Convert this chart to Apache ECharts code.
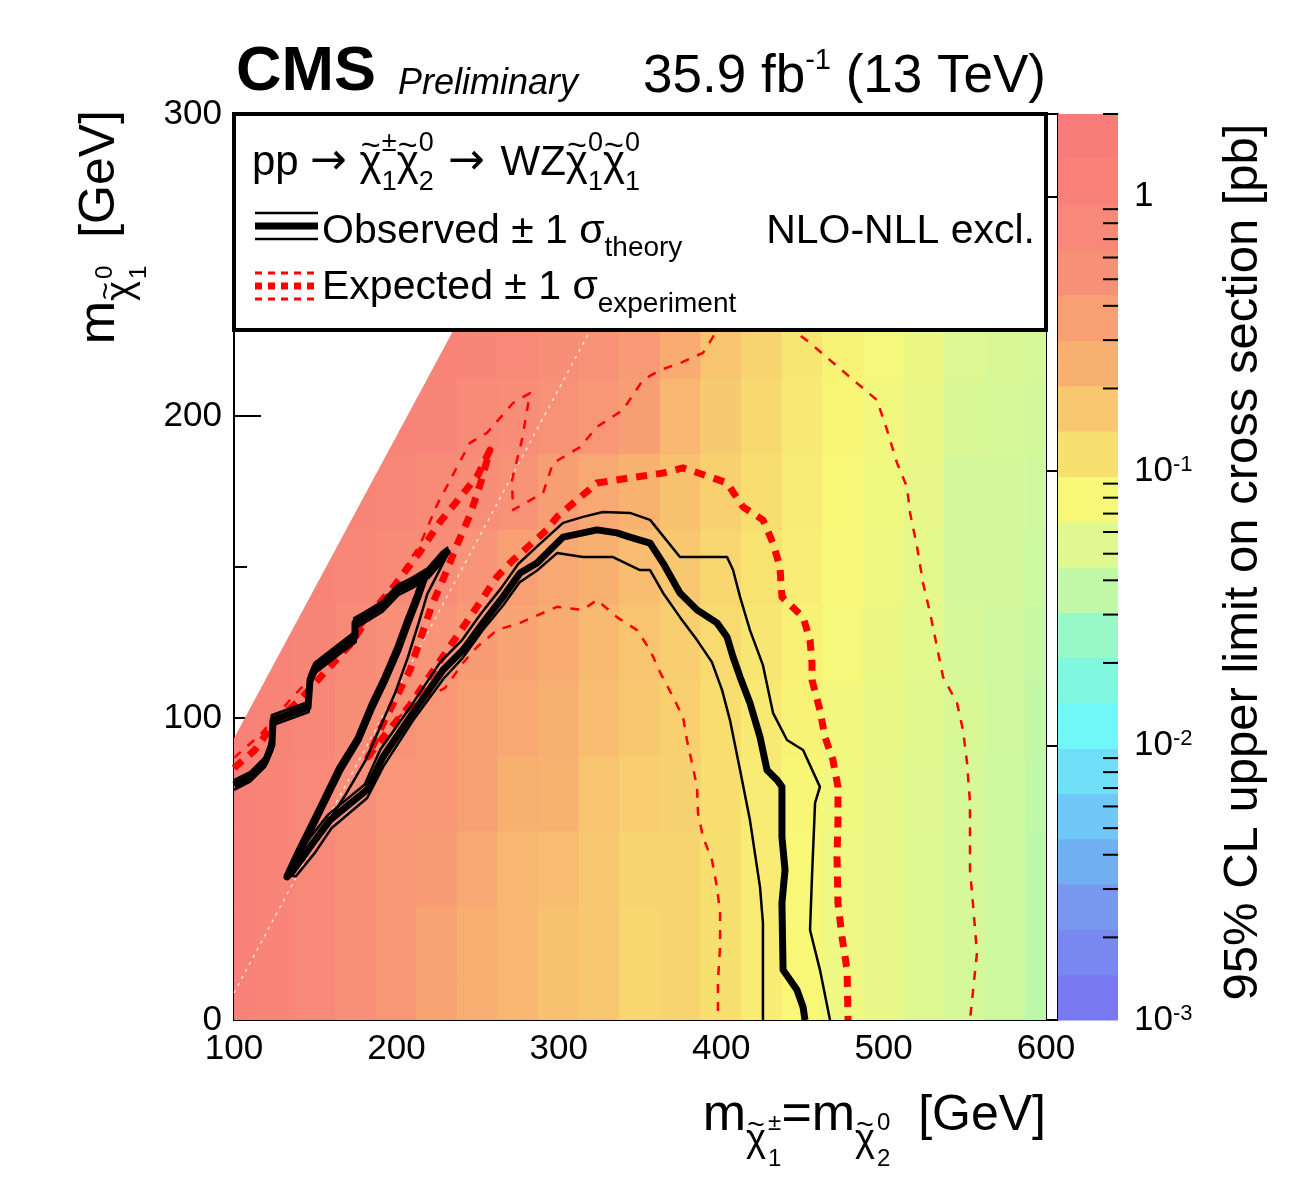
<!DOCTYPE html>
<html><head><meta charset="utf-8">
<script src="https://cdn.jsdelivr.net/npm/echarts@6.0.0/dist/echarts.min.js"></script>
<style>html,body{margin:0;padding:0;background:#fff;}#c{width:1299px;height:1202px;}</style>
</head><body><div id="c"></div>
<script>
// ---------------- DATA ----------------
const xCenters = [100,125,150,175,200,225,250,275,300,325,350,375,400,425,450,475,500,525,550,575,600];
const yCenters = [0,25,50,75,100,125,150,175,200,225,250,275,300];
// 95% CL upper limit on cross section [pb], one row per yCenter, one column per xCenter
const limitRows = [
 [1.1,0.9,0.77,0.55,0.45,0.32,0.26,0.22,0.19,0.17,0.135,0.14,0.115,0.095,0.08,0.068,0.06,0.053,0.048,0.043,0.036],
 [1.1,0.9,0.77,0.55,0.45,0.32,0.26,0.22,0.19,0.17,0.135,0.14,0.115,0.095,0.08,0.068,0.06,0.053,0.048,0.043,0.036],
 [1.1,0.9,0.77,0.55,0.45,0.40,0.30,0.22,0.20,0.17,0.14,0.14,0.115,0.095,0.08,0.068,0.06,0.053,0.048,0.043,0.036],
 [1.1,0.9,0.78,0.56,0.46,0.44,0.36,0.25,0.24,0.18,0.155,0.145,0.118,0.097,0.082,0.07,0.061,0.054,0.048,0.043,0.037],
 [1.1,0.95,0.8,0.6,0.5,0.45,0.37,0.30,0.25,0.20,0.17,0.15,0.12,0.10,0.085,0.072,0.063,0.055,0.049,0.044,0.038],
 [null,1.0,0.85,0.68,0.56,0.48,0.40,0.32,0.27,0.21,0.18,0.155,0.125,0.105,0.088,0.075,0.065,0.057,0.048,0.045,0.04],
 [null,null,0.95,0.8,0.66,0.58,0.48,0.36,0.30,0.25,0.20,0.17,0.135,0.11,0.092,0.078,0.068,0.058,0.046,0.046,0.042],
 [null,null,null,0.95,0.8,0.7,0.6,0.5,0.38,0.30,0.24,0.19,0.15,0.12,0.095,0.08,0.07,0.06,0.046,0.047,0.044],
 [null,null,null,null,0.95,0.85,0.72,0.62,0.5,0.45,0.38,0.22,0.165,0.13,0.10,0.083,0.072,0.062,0.05,0.048,0.046],
 [null,null,null,null,null,0.95,0.85,0.75,0.62,0.5,0.42,0.27,0.18,0.14,0.105,0.086,0.075,0.065,0.052,0.05,0.048],
 [null,null,null,null,null,null,0.95,0.85,0.72,0.6,0.5,0.32,0.2,0.15,0.11,0.09,0.078,0.068,0.055,0.052,0.05],
 [null,null,null,null,null,null,null,0.95,0.82,0.7,0.58,0.38,0.23,0.17,0.12,0.095,0.08,0.07,0.058,0.054,0.052],
 [null,null,null,null,null,null,null,null,0.92,0.8,0.66,0.45,0.27,0.19,0.13,0.10,0.085,0.072,0.06,0.056,0.054]
];
// kinematic edge of the scanned region
const kinematicEdge = [[100, 93], [300, 293]];
// white dotted line
const whiteDiagonal = [[100, 9], [330, 239]];

const obsCentral = [[100,77.8],[109.9,80.5],[119.1,85.4],[123.4,91.1],[124,99.3],[145.6,103.6],[146.8,112.6],[149.9,116.6],[164,122.5],[174.5,126.8],[174.5,131.5],[180.7,133.4],[191.1,136.8],[201,142.4],[209.6,144.7],[219.5,148],[228.1,153.3],[231.2,155],
 [217.6,146.7],[213.3,140.1],[207.1,131.5],[201,122.5],[193,112.6],[185,103.6],[176.4,92.7],[165.3,82.8],[151.1,67.2],[138.8,54],[132.6,47.4],
 [135.7,49],[148.6,58.6],[159.1,66.2],[181.9,76.2],[191.7,87.1],[210.2,101.7],[228.7,115.9],[241,122.5],[253.3,131.5],[265.6,140.1],[276.1,148],[286.6,151.3],[294.6,155.6],[302.6,159.9],[314.9,161.3],[323.5,162.3],[335.8,161.3],[343.8,159.9],[356.2,157.9],[364.2,151.3],[374.6,141.4],[385.1,135.8],[397.4,131.5],[403.6,126.8],[407.3,120.2],[411.6,113.6],[417.7,105],[423.9,93.7],[428.2,82.8],[434.4,79.5],[437.4,77.2],[437.4,60.6],[439.3,49.7],[437.4,38.7],[438.1,16.6],[446.7,9.9],[450.4,4.3],[451.6,0]];
const obsPlus = [[100,79.4],[109.9,82.1],[119.1,87],[122.6,92.7],[123.2,100.9],[145.2,105.2],[146.3,114.2],[149.5,118.2],[163.6,124.1],[174,128.4],[174,133.1],[180.3,135],[190.7,138.4],[200.6,144],[209.3,146.3],[219.2,149.6],[227.8,154.9],[231.4,156.4],
 [216,147.5],[211.8,141],[205.6,132.5],[199.5,123.5],[191.5,113.5],[183.5,104.5],[175,93.5],[164,84],[150,68.5],[137.5,55],[131.5,48],
 [134,50.5],[147,60.5],[158,68],[180.5,78],[190,89.5],[209,104],[227,118.5],[240,125.5],[252,134.5],[264.5,143],[275,151],[286,156.5],[302.6,164.6],[314.9,166.6],[327.2,168.2],[343.8,167.9],[356.2,165.6],[374.6,153.3],[386.9,153.3],[403.6,153.3],[407.3,149],[411.6,140.1],[417.7,129.1],[425.7,117.5],[431.9,101.7],[440.5,92.7],[450.4,89.4],[460.8,77.2],[457.8,71.9],[455.9,47.4],[454.7,29.8],[460.8,16.6],[467,0]];
const obsMinus = [[100,76.2],[109.9,78.9],[119.1,83.8],[123.8,89.5],[124.6,97.7],[146,102],[147.2,111],[150.3,115],[164.4,120.9],[175,125.2],[175,129.9],[181.1,131.8],[191.5,135.2],[201.4,140.8],[209.9,143.1],[219.8,146.4],[228.4,151.7],[231,153.6],
 [219,141],[214,132],[207,120],[199,108],[190,97],[181,86],[168,74],[155,63],[143,53],[135,48],
 [138,47.5],[150,55.5],[160,63.5],[182,73.5],[192,84],[210,99],[229,113],[241,120],[253,129],[266,137.5],[276,145],[287,149],[298.9,154.6],[314.9,153.3],[333.4,153.3],[350,149],[356.2,149],[364.2,141.4],[374.6,133.4],[385.1,125.8],[394.3,118.5],[400.5,109.3],[405.4,99.3],[411.6,82.8],[417.7,66.2],[423.9,44],[425.7,32.1],[425.7,0]];
const expCentral = [[100,83.4],[112.9,89.4],[125.2,98.7],[140.6,106],[156,115.2],[171.4,124.2],[185,135.1],[199.1,144],[214.5,155],[226.8,164.9],[240.4,173.8],[250.2,180.5],[257.6,188.7],
 [251.5,177.2],[245.3,167.2],[237.3,157.3],[229.9,147.4],[221.9,137.4],[214.5,125.8],[208.4,115.9],[199.1,106],[189.9,96],[182.5,87.1],
 [193,94.4],[208.4,104.3],[225,117.5],[245.3,133.4],[261.9,146.7],[271.8,152.3],[292.7,162.3],[298.9,166.6],[311.2,172.2],[323.5,177.8],[343.8,179.5],[364.2,181.1],[376.5,182.8],[395,179.5],[403.6,177.8],[413.4,169.9],[425.7,165.6],[431.9,157.9],[436.2,150],[437.4,140.1],[450.4,133.4],[454.7,125.8],[455.9,118.2],[455.9,112.6],[460.8,102.6],[463.9,93.7],[468.8,86.1],[471.9,77.2],[471.9,66.2],[471.3,54],[471.9,38.7],[474.4,27.5],[477.5,16.6],[478.1,0]];
const expPlus = [[100,86.8],[116,94.4],[134.5,106],[153,116.6],[171.4,125.8],[189.9,137.4],[202.2,147.4],[214.5,157.3],[225,170.5],[237.3,183.1],[245.3,191.1],[255.8,194.4],[271.8,204.3],[282.3,207.6],
 [277.3,192.1],[271.2,178.8],[271.8,168.9],
 [290.3,174.5],[296.4,184.4],[313.1,189.7],[323.5,196.4],[339.5,202],[351.8,211.9],[362.3,215.2],[374.6,217.5],[388.8,220.9],[395,226.2],[402.3,238.4],[423.9,241.7],[446.7,227.5],[454.7,224.2],[467,218.5],[483.6,210.9],[495.9,205.3],[502.1,195.4],[508.3,184.4],[514.4,176.5],[516.3,167.9],[520.6,156.6],[524.3,144.7],[528.6,134.8],[532.9,123.5],[536.6,113.6],[545.2,105],[548.9,96],[551.4,85.1],[553.2,71.9],[553.2,49.7],[555,38.7],[557.5,22.2],[553.2,0]];
const expMinus = [[199.1,99.3],[214.5,106],[229.9,109.9],[241,118.2],[249.6,123.5],[261.9,129.1],[276.1,131.5],[298.9,136.8],[314.9,135.8],[323.5,139.1],[335.8,133.4],[348.2,129.1],[356.2,122.5],[362.3,115.2],[370.3,107],[376.5,100.3],[378.9,92.7],[382,85.1],[385.1,77.2],[385.7,68.5],[388.8,60.6],[394.3,53],[397.4,44],[399.3,35.4],[399.3,24.2],[398,13.2],[398,0]];

const xTicks = [100, 600, 100];      // min, max, step
const yTicks = [0, 300, 100];
const cbRange = [0.001, 2];
const cbMinorTicks = [0.002,0.003,0.004,0.005,0.006,0.007,0.008,0.009,0.02,0.03,0.04,0.05,0.06,0.07,0.08,0.09,0.2,0.3,0.4,0.5,0.6,0.7,0.8,0.9,2];
// palette bands, bottom (1e-3) to top (2 pb)
const paletteBands = ['#7878f0','#7888f0','#7898f0','#70b0f0','#70c8f8','#70e0f8','#70f8f8','#80f8e0','#98f8c8','#c0f8a8','#e0f890','#f8f878','#f8e070','#f8c870','#f8b070','#f8a074','#f89078','#f88878','#f88078','#f87c78'];

// ---------------- HELPERS ----------------
const FONT = '"Liberation Sans", Arial, Helvetica, sans-serif';
const mctx = document.createElement('canvas').getContext('2d');
function fontStr(fs, fw, fi, ff){ return (fi?'italic ':'') + (fw||'normal') + ' ' + fs + 'px ' + (ff||FONT); }
function tw(t, fs, fw, fi, ff){ mctx.font = fontStr(fs, fw, fi, ff); return mctx.measureText(t).width; }
function txt(t, x, base, fs, fw, fi, align, ff){
  return {type:'text', x:x, y: base - 0.3465*fs, z:200,
    style:{text:t, font:fontStr(fs,fw,fi,ff), fill:'#000', align:align||'left', verticalAlign:'middle'}};
}
// parts: {t,fs,fw,fi,ff,dy,gap} or {stack:[{t,fs,dy,center,wf}], gap}
function seq(parts, x, base, align){
  const widths = parts.map(p => (p.stack ? Math.max.apply(null, p.stack.map(q=>tw(q.t,q.fs,q.fw,q.fi,q.ff)*(q.wf==null?1:q.wf))) : tw(p.t,p.fs,p.fw,p.fi,p.ff)) + (p.gap||0));
  const total = widths.reduce((a,b)=>a+b,0);
  let cx = align==='right' ? x-total : (align==='center' ? x-total/2 : x);
  const els = [];
  parts.forEach((p,i)=>{
    (p.stack||[p]).forEach(q=>{
      let dx = q.dx||0;
      if (q.center) dx += (widths[i]-(p.gap||0)-tw(q.t,q.fs,q.fw,q.fi,q.ff))/2;
      els.push(txt(q.t, cx+dx, base+(q.dy||0), q.fs, q.fw, q.fi, 'left', q.ff));
    });
    cx += widths[i];
  });
  return els;
}
// chi with tilde accent (stack of glyphs), dy = baseline shift of chi
function chiT(fs, dy, gap){ return {gap:gap||0, stack:[{t:'\u03c7', fs:fs, dy:dy||0, center:true},{t:'~', fs:Math.round(fs*0.8), dy:(dy||0)-0.47*fs, center:true, wf:0}]}; }
function hex(h){ return [parseInt(h.substr(1,2),16),parseInt(h.substr(3,2),16),parseInt(h.substr(5,2),16)]; }
const lMin = Math.log10(cbRange[0]), lMax = Math.log10(cbRange[1]);
const bandW = (lMax - lMin)/paletteBands.length;
function paletteColor(v){
  const t = (Math.log10(v)-lMin)/bandW - 0.5;
  const n = paletteBands.length;
  const i = Math.max(0, Math.min(n-1, Math.floor(t)));
  const j = Math.min(n-1, i+1);
  const f = Math.max(0, Math.min(1, t-i));
  const a = hex(paletteBands[i]), b = hex(paletteBands[j]);
  return 'rgb(' + a.map((c,k)=>Math.round(c+(b[k]-c)*f)).join(',') + ')';
}
const kinSlope = (kinematicEdge[1][1]-kinematicEdge[0][1])/(kinematicEdge[1][0]-kinematicEdge[0][0]);
function kinF(p){ return kinematicEdge[0][1] + kinSlope*(p[0]-kinematicEdge[0][0]) - p[1]; }
function clipPoly(poly){
  const out = [];
  for (let i=0;i<poly.length;i++){
    const a = poly[i], b = poly[(i+1)%poly.length];
    const fa = kinF(a), fb = kinF(b);
    if (fa >= 0) out.push(a);
    if ((fa >= 0) !== (fb >= 0)){
      const t = fa/(fa-fb);
      out.push([a[0]+(b[0]-a[0])*t, a[1]+(b[1]-a[1])*t]);
    }
  }
  return out;
}
const halfDx = (xCenters[1]-xCenters[0])/2, halfDy = (yCenters[1]-yCenters[0])/2;
const cellData = [];
limitRows.forEach((row,j)=>row.forEach((v,i)=>{ if (v!=null) cellData.push([xCenters[i], yCenters[j], v]); }));

function renderCell(params, api){
  const xc = api.value(0), yc = api.value(1), v = api.value(2);
  const x0 = Math.max(xTicks[0], xc-halfDx), x1 = Math.min(xTicks[1], xc+halfDx);
  const y0 = Math.max(yTicks[0], yc-halfDy), y1 = Math.min(yTicks[1], yc+halfDy);
  const poly = clipPoly([[x0,y0],[x1,y0],[x1,y1],[x0,y1]]);
  if (poly.length < 3) return;
  const col = paletteColor(v);
  return {type:'polygon', shape:{points: poly.map(p=>api.coord(p))}, style:{fill:col, stroke:col, lineWidth:1}};
}
const bandData = paletteBands.map((c,k)=>[0, Math.pow(10, lMin+k*bandW), Math.pow(10, lMin+(k+1)*bandW), k]);
function renderBand(params, api){
  const p0 = api.coord([0, api.value(1)]), p1 = api.coord([1, api.value(2)]);
  const col = paletteBands[api.value(3)];
  return {type:'rect', shape:{x:p0[0], y:p1[1], width:p1[0]-p0[0], height:p0[1]-p1[1]+0.5}, style:{fill:col}};
}
function renderMinor(params, api){
  const p = api.coord([1, api.value(1)]);
  return {type:'line', shape:{x1:p[0], y1:p[1], x2:p[0]-15, y2:p[1]}, style:{stroke:'#000', lineWidth:2}};
}
function lineSeries(data, color, width, dash, z){
  return {type:'line', data:data, symbol:'none', silent:true, z:z, xAxisIndex:0, yAxisIndex:0,
    lineStyle:{color:color, width:width, type:dash||'solid', cap:'butt', join:'round'}};
}

// ---------------- LAYOUT ----------------
const G = {left:234, top:114, width:812, height:906};
const CB = {left:1058, top:114, width:60, height:906};

const axisCommon = {
  axisLine:{lineStyle:{color:'#000', width:2}},
  axisTick:{inside:true, length:27, lineStyle:{color:'#000', width:2}},
  minorTick:{show:true, splitNumber:2, length:13, lineStyle:{color:'#000', width:2}},
  splitLine:{show:false}, minorSplitLine:{show:false},
  axisLabel:{color:'#000', fontSize:35, fontFamily:FONT, margin:12}
};

const graphics = [];
// header
graphics.push(txt('CMS', 236, 94, 63, 'bold'));
graphics.push(txt('Preliminary', 398, 96, 36, 'normal', true));
graphics.push(...seq([{t:'35.9 fb',fs:53},{t:'-1',fs:29,dy:-25},{t:' (13 TeV)',fs:53}], 1046, 96, 'right'));
// legend box
graphics.push({type:'rect', z:150, shape:{x:G.left, y:G.top, width:G.width, height:216}, style:{fill:'#fff', stroke:'#000', lineWidth:4}});
const ARROW = '"DejaVu Sans", sans-serif';
graphics.push(...seq([
  {t:'pp',fs:42,gap:11},{t:'\u2192',fs:44,ff:ARROW,gap:13},chiT(42),{stack:[{t:'\u00b1',fs:27,dy:-25},{t:'1',fs:27,dy:14}]},
  chiT(42),{stack:[{t:'0',fs:27,dy:-25},{t:'2',fs:27,dy:14}],gap:14},
  {t:'\u2192',fs:44,ff:ARROW,gap:16},{t:'WZ',fs:42},chiT(42),{stack:[{t:'0',fs:27,dy:-25},{t:'1',fs:27,dy:14}]},
  chiT(42),{stack:[{t:'0',fs:27,dy:-25},{t:'1',fs:27,dy:14}]}
], 252, 178, 'left'));
graphics.push(...seq([{t:'Observed \u00b1 1 \u03c3',fs:41},{t:'theory',fs:28,dy:12}], 322, 246, 'left'));
graphics.push(txt('NLO-NLL excl.', 1035, 246, 41, 'normal', false, 'right'));
graphics.push(...seq([{t:'Expected \u00b1 1 \u03c3',fs:41},{t:'experiment',fs:28,dy:12}], 322, 302, 'left'));
// legend symbols
function seg(y, color, w, dash){ return {type:'line', z:210, shape:{x1:255,y1:y,x2:318,y2:y}, style:{stroke:color, lineWidth:w, lineDash:dash||null}}; }
graphics.push(seg(213,'#000',2.5), seg(226,'#000',7), seg(239,'#000',2.5));
graphics.push(seg(273,'#ff0000',3,[7,6]), seg(286,'#ff0000',7,[7,6]), seg(299,'#ff0000',3,[7,6]));
// axis titles
graphics.push({type:'group', x:118, y:110, rotation:Math.PI/2, z:200, children: seq([
  {t:'m',fs:52},chiT(38,17,2),{stack:[{t:'0',fs:24,dy:-4},{t:'1',fs:24,dy:30}]},{t:'  [GeV]',fs:50}
], 0, 0, 'right')});
graphics.push(...seq([
  {t:'m',fs:52},chiT(38,20,2),{stack:[{t:'\u00b1',fs:24,dy:-2},{t:'1',fs:24,dy:34}]},
  {t:'=m',fs:52},chiT(38,20,2),{stack:[{t:'0',fs:24,dy:-2},{t:'2',fs:24,dy:34}]},{t:'  [GeV]',fs:50}
], 1046, 1134, 'right'));
graphics.push({type:'group', x:1260, y:562, rotation:Math.PI/2, z:200, children: seq([
  {t:'95% CL upper limit on cross section [pb]',fs:49}], 0, 0, 'center')});

const option = {
  animation:false,
  backgroundColor:'#ffffff',
  textStyle:{fontFamily:FONT},
  grid:[
    {left:G.left, top:G.top, width:G.width, height:G.height, containLabel:false},
    {left:CB.left, top:CB.top, width:CB.width, height:CB.height, containLabel:false}
  ],
  xAxis:[
    Object.assign({type:'value', gridIndex:0, min:xTicks[0], max:xTicks[1], interval:xTicks[2]}, axisCommon),
    {type:'value', gridIndex:1, min:0, max:1, show:false}
  ],
  yAxis:[
    Object.assign({type:'value', gridIndex:0, min:yTicks[0], max:yTicks[1], interval:yTicks[2], position:'left'}, axisCommon),
    Object.assign({}, axisCommon, {type:'value', gridIndex:0, min:yTicks[0], max:yTicks[1], interval:yTicks[2], position:'right', axisLabel:{show:false}}),
    {type:'log', gridIndex:1, logBase:10, min:cbRange[0], max:cbRange[1], position:'right',
      axisLine:{show:true, lineStyle:{color:'#000', width:2}},
      axisTick:{show:true, inside:true, length:30, lineStyle:{color:'#000', width:2}},
      splitLine:{show:false},
      axisLabel:{margin:16, formatter:function(v){
        const l = Math.log10(v), e = Math.round(l);
        if (Math.abs(l-e) > 1e-6) return '';
        if (e === 0) return '{a|1}';
        return '{a|10}{s|' + e + '}';
      }, rich:{a:{fontSize:35, fontFamily:FONT, color:'#000', lineHeight:35}, s:{fontSize:22, fontFamily:FONT, color:'#000', verticalAlign:'top', lineHeight:22}}}
    }
  ],
  series:[
    {type:'custom', xAxisIndex:0, yAxisIndex:0, renderItem:renderCell, data:cellData, z:1, silent:true, clip:true},
    lineSeries(whiteDiagonal, 'rgba(255,255,255,0.75)', 1.5, [3,5], 2),
    lineSeries(expPlus, '#ff0000', 2.5, [9,9], 3),
    lineSeries(expMinus, '#ff0000', 2.5, [9,9], 3),
    lineSeries(expCentral, '#ff0000', 7, [11,9], 4),
    lineSeries(obsPlus, '#000', 2.5, null, 5),
    lineSeries(obsMinus, '#000', 2.5, null, 5),
    lineSeries(obsCentral, '#000', 7, null, 6),
    {type:'custom', xAxisIndex:1, yAxisIndex:2, renderItem:renderBand, data:bandData, silent:true, z:1},
    {type:'custom', xAxisIndex:1, yAxisIndex:2, renderItem:renderMinor, data:cbMinorTicks.map(v=>[1,v]), silent:true, z:3}
  ],
  graphic: graphics
};
const chart = echarts.init(document.getElementById('c'));
chart.setOption(option);
</script></body></html>
